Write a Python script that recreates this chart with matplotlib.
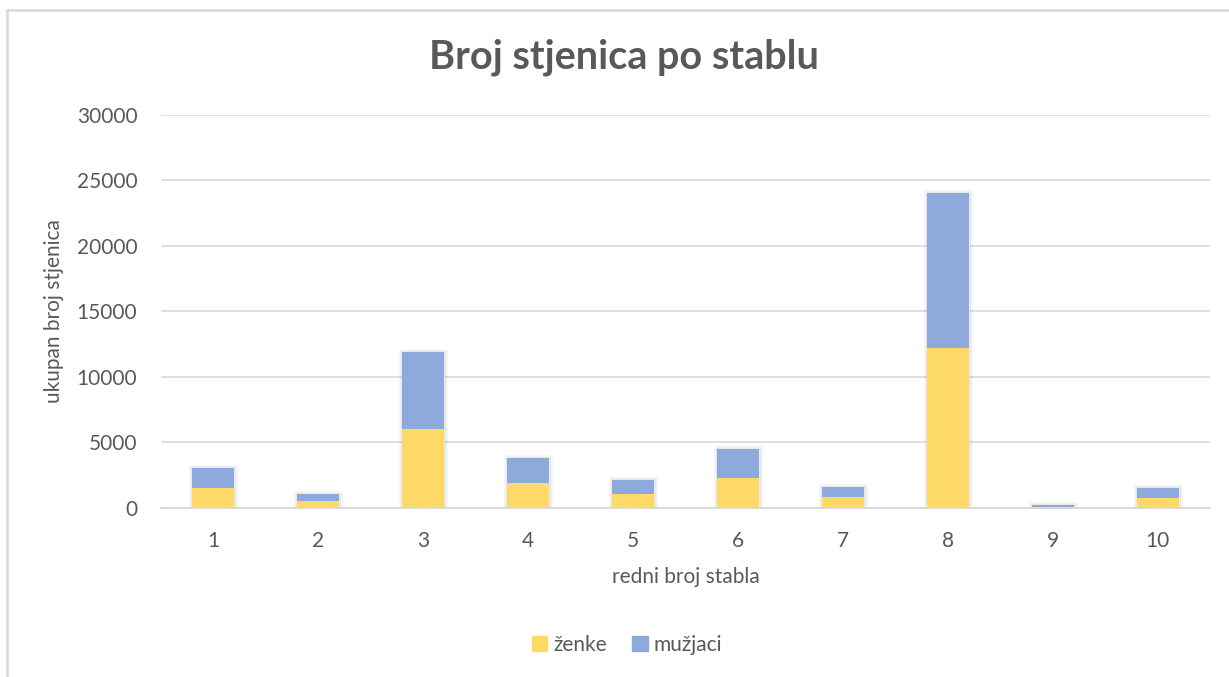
import matplotlib
matplotlib.use("Agg")
import matplotlib.pyplot as plt
import matplotlib.patheffects as pe
from matplotlib.lines import Line2D
from matplotlib.patches import Patch
import numpy as np

categories = ["1", "2", "3", "4", "5", "6", "7", "8", "9", "10"]
zenke = [1510, 500, 6000, 1890, 1050, 2280, 800, 12180, 70, 730]
muzjaci = [1490, 530, 5880, 1870, 1050, 2210, 770, 11830, 110, 760]
yticks = [0, 5000, 10000, 15000, 20000, 25000, 30000]

title = "Broj stjenica po stablu"
xlabel = "redni broj stabla"
ylabel = "ukupan broj stjenica"

C_Y = "#FFD966"
C_B = "#8EA9DB"
TXT = "#595959"
GRID = "#D9D9D9"
FONT = "Lato"

W, H = 1229, 677
fig = plt.figure(figsize=(W / 100, H / 100), dpi=100)
fig.patch.set_facecolor("white")

L, R, T, B = 161, 1210, 115, 507.5
ax = fig.add_axes([L / W, 1 - B / H, (R - L) / W, (B - T) / H])

x = np.arange(len(categories))
tot = np.array(zenke) + np.array(muzjaci)
bw = 0.40
# soft shadow behind each full stack
ax.bar(x, tot, width=bw, color="white", zorder=2,
       path_effects=[pe.withStroke(linewidth=5, foreground=(0, 0, 0, 0.035)),
                     pe.withStroke(linewidth=2.5, foreground=(0, 0, 0, 0.06))])
ax.bar(x, zenke, width=bw, color=C_Y, zorder=3, label="ženke")
ax.bar(x, muzjaci, width=bw, bottom=zenke, color=C_B, zorder=3, label="mužjaci")

ax.set_xlim(-0.5, len(categories) - 0.5)
ax.set_ylim(0, 30000)
ax.set_yticks(yticks)
ax.set_yticklabels([str(v) for v in yticks])
ax.set_xticks(x)
ax.set_xticklabels(categories)
ax.yaxis.grid(True, color=GRID, linewidth=1.2, zorder=0)
ax.set_axisbelow(True)
for s in ["top", "right", "left"]:
    ax.spines[s].set_visible(False)
ax.spines["bottom"].set_color(GRID)
ax.spines["bottom"].set_linewidth(1.4)
ax.spines["bottom"].set_zorder(4)
ax.tick_params(axis="both", length=0, labelsize=15, labelcolor=TXT)
ax.tick_params(axis="x", pad=17)
ax.tick_params(axis="y", pad=17)
for lab in ax.get_xticklabels() + ax.get_yticklabels():
    lab.set_fontfamily(FONT)

ax.text((54 - L) / (R - L), 0.5, ylabel, rotation=90, ha="center", va="center",
        transform=ax.transAxes, fontsize=15, color=TXT, fontfamily=FONT)
ax.text(0.5, (B - 577) / (B - T), xlabel, ha="center", va="center",
        transform=ax.transAxes, fontsize=15, color=TXT, fontfamily=FONT)

fig.text(624 / W, 1 - 57 / H, title, ha="center", va="center", fontsize=28.5,
         fontweight="bold", color=TXT, fontfamily=FONT)

handles = [Patch(color=C_Y, label="ženke"), Patch(color=C_B, label="mužjaci")]
leg = fig.legend(handles=handles, loc="center", bbox_to_anchor=(627 / W, 1 - 645 / H),
                 ncol=2, frameon=False, handlelength=0.75, handleheight=0.75,
                 handletextpad=0.3, columnspacing=1.2,
                 prop={"family": FONT, "size": 15})
for t in leg.get_texts():
    t.set_color(TXT)

# chart area border (left and top edges visible)
fig.add_artist(Line2D([7 / W, 1.0], [1 - 10 / H, 1 - 10 / H], transform=fig.transFigure,
                      color=GRID, linewidth=1.8))
fig.add_artist(Line2D([7 / W, 7 / W], [0, 1 - 10 / H], transform=fig.transFigure,
                      color=GRID, linewidth=1.8))

fig.savefig("out.png", dpi=100, facecolor="white")
